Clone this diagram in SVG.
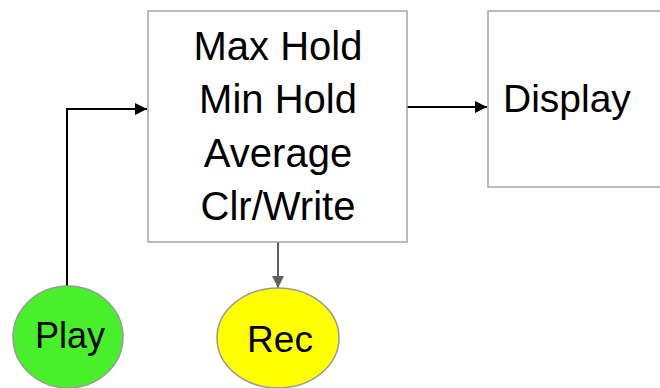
<svg xmlns="http://www.w3.org/2000/svg" width="660" height="388" viewBox="0 0 660 388">
<style>
.box{fill:#ffffff;stroke:#a6a6a6;stroke-width:1.5}
.t{font-family:"Liberation Sans",Arial,sans-serif;fill:#000000}
.c{stroke:#000000;stroke-width:2;fill:none}
.g{stroke:#606060;stroke-width:2;fill:none}
</style>
<defs>
<marker id="ab" viewBox="0 0 10 10" refX="10" refY="5" markerWidth="6" markerHeight="6" orient="auto" markerUnits="strokeWidth"><path d="M0,0 L10,5 L0,10 z" fill="#000000"/></marker>
<marker id="ag" viewBox="0 0 10 10" refX="10" refY="5" markerWidth="6" markerHeight="6" orient="auto" markerUnits="strokeWidth"><path d="M0,0 L10,5 L0,10 z" fill="#606060"/></marker>
</defs>
<rect width="660" height="388" fill="#ffffff"/>
<g id="connectors">
<path class="c" d="M67,287 L67,109 L147,109" marker-end="url(#ab)"/>
<path class="c" d="M407,107 L487,107" marker-end="url(#ab)"/>
<path class="g" d="M278,242 L278,288" marker-end="url(#ag)"/>
</g>
<g id="modes">
<rect class="box" x="148" y="11" width="259" height="231"/>
<text class="t" font-size="40" text-anchor="middle" x="278" y="60">Max Hold</text>
<text class="t" font-size="40" text-anchor="middle" x="278" y="113">Min Hold</text>
<text class="t" font-size="40" text-anchor="middle" x="278" y="167">Average</text>
<text class="t" font-size="40" text-anchor="middle" x="278" y="220">Clr/Write</text>
</g>
<g id="display">
<rect class="box" x="488" y="11" width="180" height="176"/>
<text class="t" font-size="39" x="503" y="112">Display</text>
</g>
<g id="play">
<ellipse cx="68" cy="337" rx="55" ry="51" fill="#47f02a" stroke="#9a9a9a" stroke-width="1.5"/>
<text class="t" font-size="36" text-anchor="middle" x="70" y="348">Play</text>
</g>
<g id="rec">
<ellipse cx="278" cy="338" rx="61" ry="50" fill="#ffff00" stroke="#9a9a9a" stroke-width="1.5"/>
<text class="t" font-size="37" text-anchor="middle" x="280" y="352">Rec</text>
</g>
</svg>
